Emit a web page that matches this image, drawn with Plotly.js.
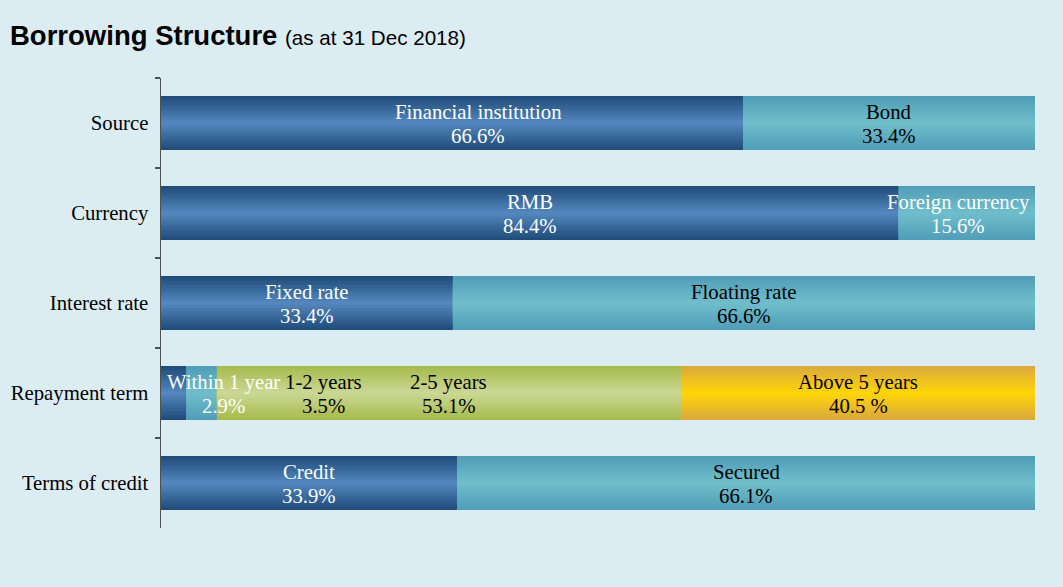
<!DOCTYPE html>
<html>
<head>
<meta charset="utf-8">
<script src="https://cdn.plot.ly/plotly-3.0.1.min.js"></script>
<style>
  html, body { margin: 0; padding: 0; background: #dbedf3; }
  #chart { width: 1063px; height: 587px; }
</style>
</head>
<body>
<div id="chart"></div>
<script>
// ---------------- DATA ----------------
const categories = ["Source", "Currency", "Interest rate", "Repayment term", "Terms of credit"];

const sourceLabels = ["Financial institution", "Bond"];
const sourceValues = [66.6, 33.4];

const currencyLabels = ["RMB", "Foreign currency"];
const currencyValues = [84.4, 15.6];

const rateLabels = ["Fixed rate", "Floating rate"];
const rateValues = [33.4, 66.6];

const termLabels = ["Within 1 year", "1-2 years", "2-5 years", "Above 5 years"];
const termValues = [2.9, 3.5, 53.1, 40.5];

const creditLabels = ["Credit", "Secured"];
const creditValues = [33.9, 66.1];

// ---------------- STYLE ----------------
const palettes = {
  dark:   { edge: [30, 74, 120],  mid: [84, 136, 190] },
  light:  { edge: [80, 157, 183], mid: [112, 190, 203] },
  green:  { edge: [166, 186, 74], mid: [203, 216, 150] },
  orange: { edge: [218, 168, 62], mid: [255, 214, 8] }
};
const segmentStyle = [
  { colors: ["dark", "light"], text: ["white", "black"], shift: [3.0, 0] },
  { colors: ["dark", "light"], text: ["white", "white"], shift: [0, -1.0] },
  { colors: ["dark", "light"], text: ["white", "black"], shift: [0, 0] },
  { colors: ["dark", "light", "green", "orange"], text: ["white", "black", "black", "black"], shift: [5.65, 13.9, 0, 0], pctSep: ["", "", "", " "] },
  { colors: ["dark", "light"], text: ["white", "black"], shift: [0, 0] }
];
const BAR_W = 0.6;
const LAYERS = 16;
const SERIF = "Liberation Serif, Times New Roman, serif";
const LABEL_SIZE = 20.75;

const series = [
  [sourceLabels, sourceValues],
  [currencyLabels, currencyValues],
  [rateLabels, rateValues],
  [termLabels, termValues],
  [creditLabels, creditValues]
];

// group segments by palette
const groups = {};
const annotations = [];
series.forEach(([labels, values], ci) => {
  let base = 0;
  values.forEach((v, si) => {
    const st = segmentStyle[ci];
    const key = st.colors[si];
    if (!groups[key]) groups[key] = { y: [], x: [], base: [] };
    groups[key].y.push(categories[ci]);
    groups[key].x.push(v);
    groups[key].base.push(base);
    const sep = st.pctSep ? st.pctSep[si] : "";
    const ax = base + v / 2 + st.shift[si];
    const font = { family: SERIF, size: LABEL_SIZE, color: st.text[si] };
    annotations.push({
      x: ax, y: categories[ci], xref: "x", yref: "y",
      text: labels[si], showarrow: false, font: font, yshift: 11
    });
    annotations.push({
      x: ax, y: categories[ci], xref: "x", yref: "y",
      text: v.toFixed(1) + sep + "%", showarrow: false, font: font, yshift: -13
    });
    base += v;
  });
});

function mix(a, b, t) {
  return "rgb(" + a.map((c, i) => Math.round(c + (b[i] - c) * t)).join(",") + ")";
}

const traces = [];
Object.keys(groups).forEach(key => {
  const g = groups[key];
  const p = palettes[key];
  for (let k = 0; k < LAYERS; k++) {
    const frac = 1 - k / LAYERS;
    const tcol = 1 - (k + 0.5) / LAYERS; // 1 at edge, 0 at center
    traces.push({
      type: "bar", orientation: "h",
      y: g.y, x: g.x, base: g.base,
      width: BAR_W * frac,
      marker: { color: mix(p.mid, p.edge, tcol), line: { width: 0 } },
      hoverinfo: "skip", showlegend: false
    });
  }
});

const layout = {
  width: 1063, height: 587,
  paper_bgcolor: "#dbedf3", plot_bgcolor: "#dbedf3",
  margin: { l: 161, r: 28, t: 78, b: 59 },
  barmode: "overlay",
  showlegend: false,
  title: {
    text: "<b>Borrowing Structure</b> <span style='font-size:20.6px'>(as at 31 Dec 2018)</span>",
    font: { family: "Liberation Sans, Arial, sans-serif", size: 27.5, color: "#000" },
    xref: "container", x: 10 / 1063, xanchor: "left",
    yref: "container", y: 1 - 35 / 587, yanchor: "middle"
  },
  xaxis: {
    range: [0, 100], showgrid: false, zeroline: false, showline: false,
    showticklabels: false, ticks: "", fixedrange: true
  },
  yaxis: {
    type: "category", categoryarray: categories, autorange: "reversed",
    showgrid: false, zeroline: false,
    showline: true, linecolor: "#505050", linewidth: 1.5,
    ticks: "outside", ticklen: 5, tickwidth: 1.5, tickcolor: "#505050",
    tickson: "boundaries",
    tickfont: { family: SERIF, size: LABEL_SIZE, color: "#000" },
    ticklabelstandoff: 7,
    fixedrange: true
  },
  annotations: annotations
};

Plotly.newPlot("chart", traces, layout, { displayModeBar: false, staticPlot: true });
</script>
</body>
</html>
